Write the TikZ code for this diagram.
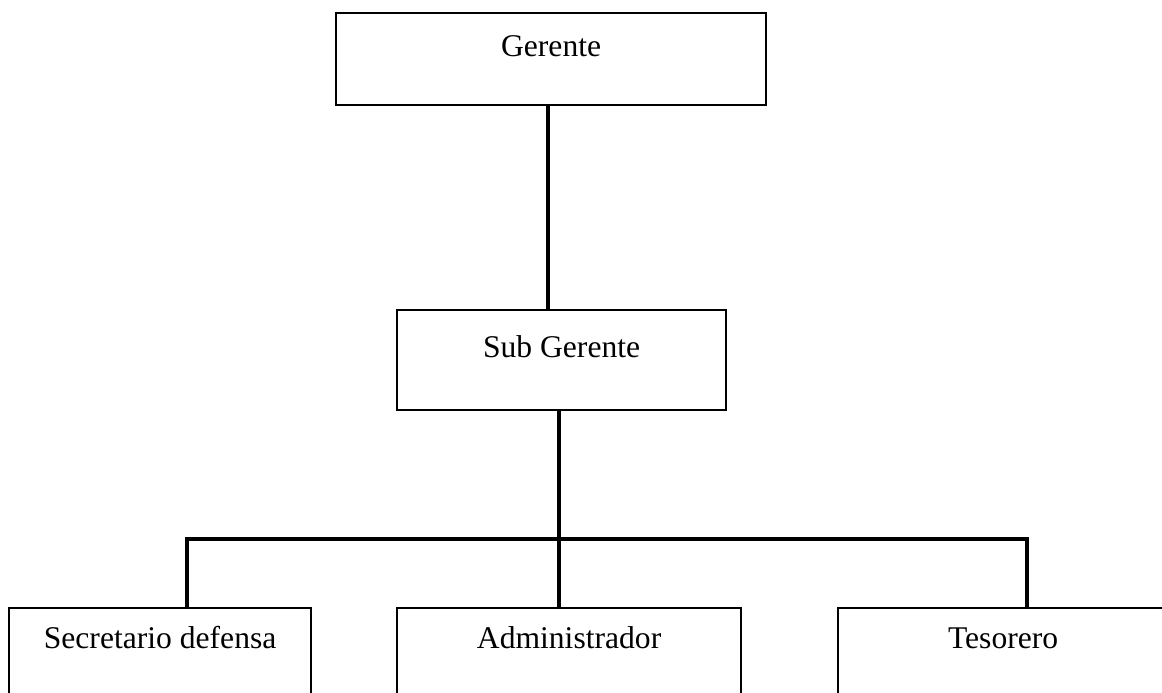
\documentclass[tikz,border=0pt]{standalone}
\usepackage{fontspec}
\setmainfont{Liberation Serif}
\begin{document}
\begin{tikzpicture}[x=1pt,y=-1pt,
  box/.style={draw=black,line width=2.2pt,rectangle,inner sep=0pt,anchor=north west,
    font=\fontsize{31.6}{38}\selectfont},
  conn/.style={draw=black,line width=4pt,line join=miter}]
\useasboundingbox (0,0) rectangle (1162,693);
\clip (0,0) rectangle (1162,693);
\fill[white] (0,0) rectangle (1162,693);
% boxes
\node[box,minimum width=430pt,text height=43pt,text depth=49pt] (g) at (335,12) {Gerente};
\node[box,minimum width=329pt,text height=47pt,text depth=53pt] (sg) at (396,309) {Sub Gerente};
\node[box,minimum width=302pt,text height=40pt,text depth=73pt] (sd) at (8,607) {Secretario defensa};
\node[box,minimum width=344pt,text height=40pt,text depth=73pt] (ad) at (396,607) {Administrador};
\node[box,minimum width=330pt,text height=40pt,text depth=73pt] (ts) at (837,607) {Tesorero};
% connector reference coordinates
\coordinate (c1) at (547.6,0);
\coordinate (bus) at (559,539);
\coordinate (lx) at (187,0);
\coordinate (rx) at (1027,0);
% connectors
\draw[conn] (g.south -| c1) -- (sg.north -| c1);
\draw[conn] (sg.south -| bus) -- (bus);
\draw[conn] (sd.north -| lx) -- (lx |- bus) -- (rx |- bus) -- (ts.north -| rx);
\draw[conn] (bus) -- (ad.north -| bus);
\end{tikzpicture}
\end{document}
